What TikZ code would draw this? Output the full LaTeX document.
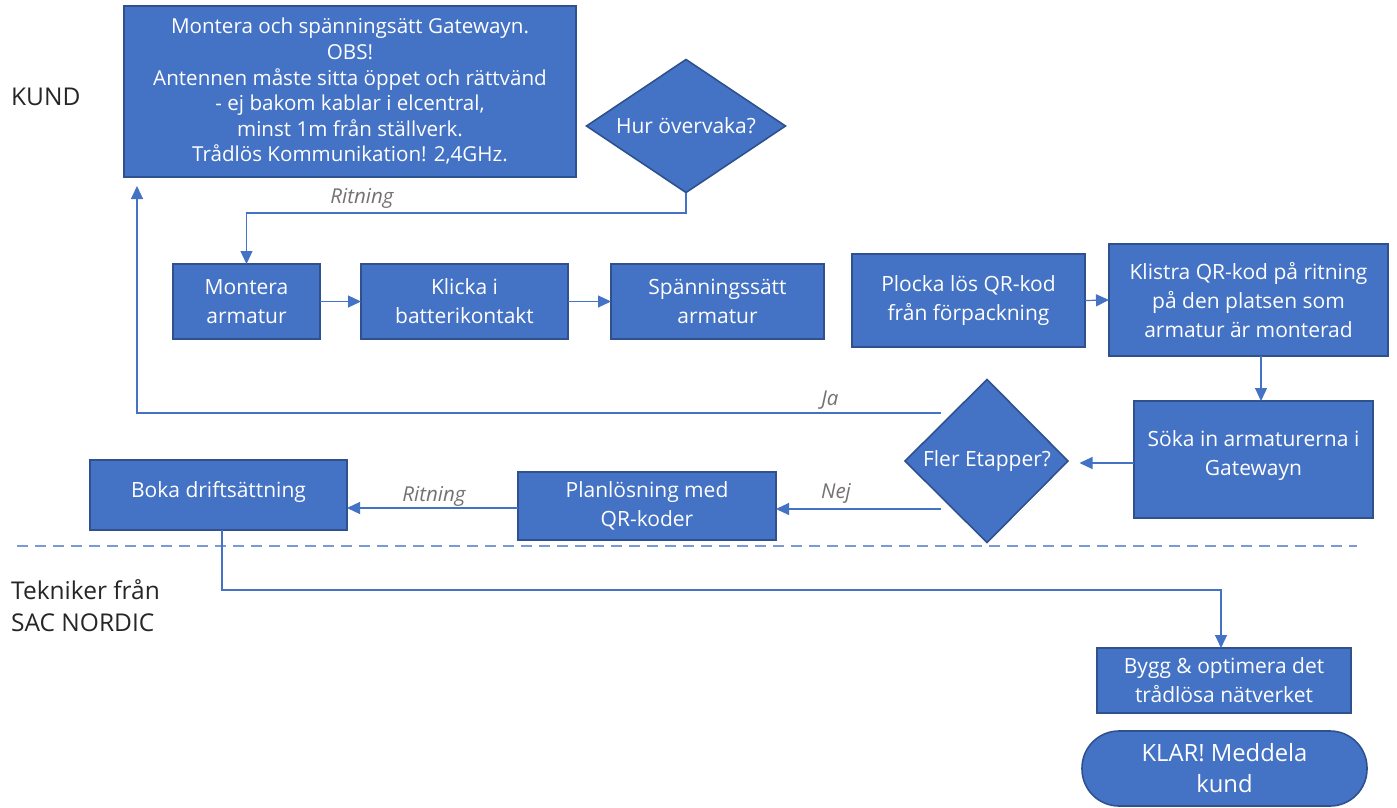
\documentclass[tikz,border=0pt]{standalone}
\usepackage{fontspec}
\setmainfont{Open Sans}
\usetikzlibrary{arrows.meta,shapes.geometric,calc}
\definecolor{fillc}{HTML}{4472C4}
\definecolor{bdr}{HTML}{2F528F}
\definecolor{linec}{HTML}{4472C4}
\definecolor{dashc}{HTML}{7A9AD6}
\definecolor{lblc}{HTML}{767171}
\definecolor{sidec}{HTML}{262626}
\tikzset{
  box/.style={draw=bdr, fill=fillc, line width=1.6pt, text=white, align=center,
    inner sep=0pt, outer sep=0pt, font=\fontsize{21}{29}\selectfont},
  diashape/.style={draw=bdr, fill=fillc, line width=1.6pt, line join=miter},
  diatext/.style={text=white, align=center, inner sep=0pt, outer sep=0pt, font=\fontsize{21}{29}\selectfont},
  arr/.style={draw=linec, line width=1.2pt, -{Triangle[length=13pt,width=12pt]}},
  lbl/.style={text=lblc, font=\fontsize{20.5}{24}\selectfont\itshape, inner sep=0pt},
  side/.style={text=sidec, font=\fontsize{24.5}{32}\selectfont, align=left, inner sep=0pt, anchor=west}
}
\begin{document}
\begin{tikzpicture}[x=1pt,y=-1pt]
\useasboundingbox (0,0) rectangle (1397,808);

% side labels
\node[side] (kund) at (11,97) {KUND};
\node[side] (tek) at (11,606) {Tekniker från\\SAC NORDIC};

% dashed separator
\draw[dashc, line width=1.2pt, dash pattern=on 11pt off 7pt] (17,546) -- (1357,546);

% nodes
\node[box, minimum width=452pt, minimum height=171pt, font=\fontsize{20.6}{25.6}\selectfont] (gw) at (350,91.5)
  {Montera och spänningsätt Gatewayn.\\OBS!\\Antennen måste sitta öppet och rättvänd\\- ej bakom kablar i elcentral,\\minst 1m från ställverk.\\Trådlös Kommunikation! 2,4GHz.};

% diamond: Hur övervaka?
\path[diashape] (686,59.5) -- (785.5,126) -- (686,192.5) -- (586.5,126) -- cycle;
\node[diatext, minimum width=199pt, minimum height=133pt] (hur) at (686,126) {Hur övervaka?};

\node[box, minimum width=147pt, minimum height=75pt] (mont) at (246.5,301.5) {Montera\\armatur};
\node[box, minimum width=207pt, minimum height=75pt] (klick) at (464.5,301.5) {Klicka i\\batterikontakt};
\node[box, minimum width=213pt, minimum height=75pt] (spann) at (717.5,301.5) {Spänningssätt\\armatur};

\node[box, minimum width=233pt, minimum height=93pt] (plocka) at (968.5,300.5) {Plocka lös QR-kod\\från förpackning};
\node[box, minimum width=279pt, minimum height=112pt] (klistra) at (1248.5,300) {Klistra QR-kod på ritning\\på den platsen som\\armatur är monterad};
\node[box, minimum width=239pt, minimum height=117pt] (soka) at (1253.5,459.5) {Söka in armaturerna i\\Gatewayn\rule[-12pt]{0pt}{0pt}};

% diamond: Fler Etapper?
\path[diashape] (987,379.5) -- (1068,461) -- (987,542.5) -- (905,461) -- cycle;
\node[diatext, minimum width=163pt, minimum height=163pt] (fler) at (987,461) {Fler Etapper?};

\node[box, minimum width=258pt, minimum height=68pt] (plan) at (647,506) {Planlösning med\\QR-koder};
\node[box, minimum width=257pt, minimum height=70pt] (boka) at (218.5,495) {Boka driftsättning\rule[-12pt]{0pt}{0pt}};

\node[box, minimum width=254pt, minimum height=65pt] (bygg) at (1224,680.5) {Bygg \& optimera det\\trådlösa nätverket};
\node[box, rounded corners=37pt, minimum width=285pt, minimum height=75pt, font=\fontsize{23.8}{31}\selectfont] (klar) at (1224.5,768.5) {KLAR! Meddela\\kund};

% connector coordinates
\coordinate (jaS) at (941,413);
\coordinate (nejS) at (941,509);

% connectors
\draw[arr] (hur.south) -- ++(0,20.5) -| (mont.north);
\node[lbl] (rit1) at (362,198) {Ritning};
\draw[arr] (mont.east) -- (klick.west);
\draw[arr] (klick.east) -- (spann.west);
\draw[arr] (plocka.east) -- (klistra.west);
\draw[arr] (1261,0 |- klistra.south) -- (1261,0 |- soka.north);
\draw[arr, shorten >=11pt] (soka.west |- 0,463) -- (fler.east |- 0,463);
\draw[arr, shorten >=9pt] (jaS) -| ([xshift=-213pt]gw.south);
\node[lbl] (ja) at (830,400) {Ja};
\draw[arr] (nejS) -- (nejS -| plan.east);
\node[lbl] (nej) at (836,493) {Nej};
\draw[arr] (plan.west |- 0,508) -- (boka.east |- 0,508);
\node[lbl] (rit2) at (434,496) {Ritning};
\draw[arr] ([xshift=3.5pt]boka.south) -- ++(0,60) -| ([xshift=-3pt]bygg.north);
\end{tikzpicture}
\end{document}
